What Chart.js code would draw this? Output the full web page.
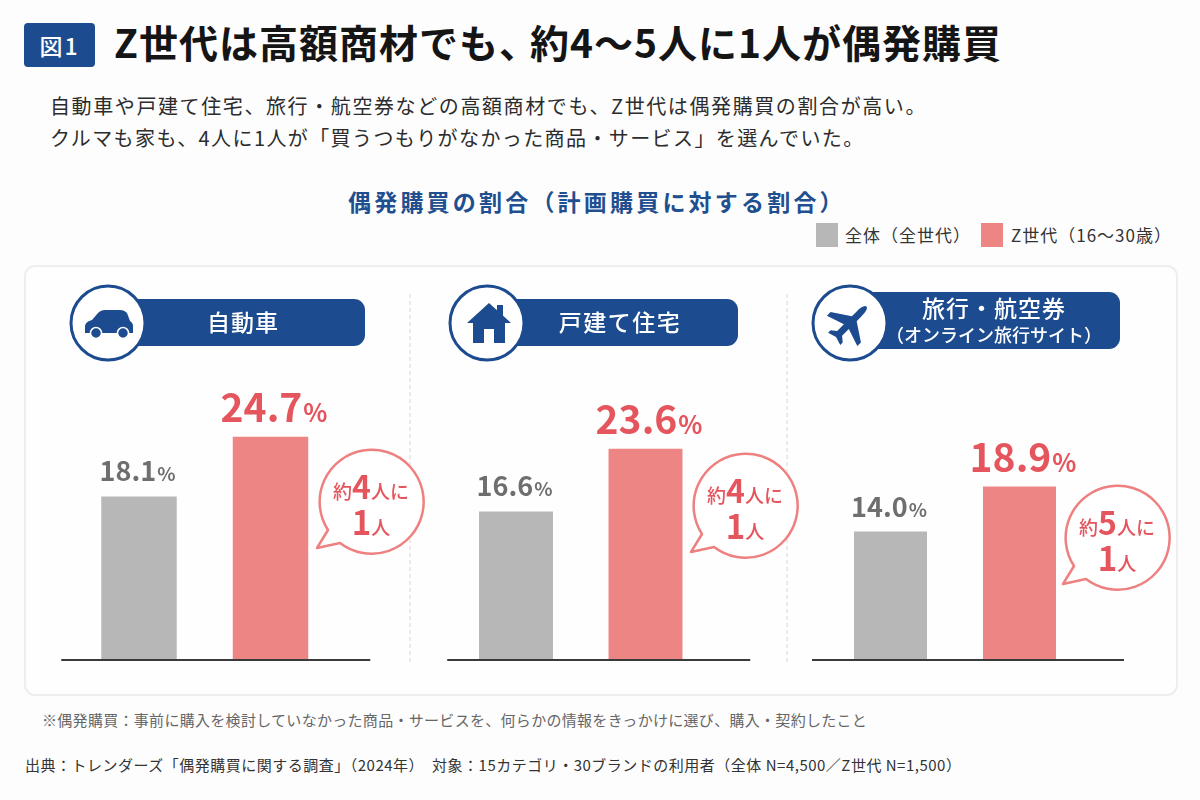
<!DOCTYPE html>
<html lang="ja">
<head>
<meta charset="utf-8">
<title>図1</title>
<script src="https://cdn.jsdelivr.net/npm/chart.js@4"></script>
<style>
html, body { margin: 0; padding: 0; background: #fdfdfe; }
body { width: 1200px; height: 800px; position: relative; overflow: hidden; font-family: "Noto Sans CJK JP", sans-serif; }
canvas { position: absolute; z-index: 2; }
#panel { position: absolute; left: 24px; top: 265px; width: 1150px; height: 427px; background: #fefefe; border: 2px solid #eceef0; border-radius: 11px; box-sizing: content-box; }
#art { position: absolute; left: 0; top: 0; z-index: 3; }
.t { position: absolute; white-space: nowrap; line-height: 1; }
#badge { left: 24px; top: 23px; width: 71px; height: 44px; background: #1c4c8f; border-radius: 4px; color: #fff; font-size: 23px; font-weight: 500; line-height: 44px; text-align: center; letter-spacing: 2px; }
#title { left: 114px; top: 22px; font-size: 39px; font-weight: 700; color: #151515; letter-spacing: 1px; }
#title span { letter-spacing: -8px; }
#sub1 { left: 50px; top: 96px; font-size: 20px; color: #2c2c2c; letter-spacing: 1.6px; }
#sub2 { left: 50px; top: 128px; font-size: 20px; color: #2c2c2c; letter-spacing: 1.4px; }
#chartTitle { left: 348px; top: 190px; font-size: 23px; font-weight: 700; color: #1f4f8f; letter-spacing: 3.2px; }
.key { top: 223px; width: 22px; height: 24px; position: absolute; }
.keyText { top: 226px; font-size: 17px; color: #333; letter-spacing: 1px; }
#note { left: 42px; top: 712px; font-size: 15px; color: #666; letter-spacing: 0.3px; }
#source { left: 25px; top: 757px; font-size: 15px; color: #333; letter-spacing: 0.5px; }
</style>
</head>
<body>
<div id="badge" class="t">図1</div>
<div id="title" class="t">Z世代は高額商材でも<span>、</span>約4〜5人に1人が偶発購買</div>
<div id="sub1" class="t">自動車や戸建て住宅、旅行・航空券などの高額商材でも、Z世代は偶発購買の割合が高い。</div>
<div id="sub2" class="t">クルマも家も、4人に1人が「買うつもりがなかった商品・サービス」を選んでいた。</div>
<div id="chartTitle" class="t">偶発購買の割合（計画購買に対する割合）</div>
<div id="key0" class="key" style="left:816px"></div>
<div id="keyText0" class="t keyText" style="left:845px"></div>
<div id="key1" class="key" style="left:981px"></div>
<div id="keyText1" class="t keyText" style="left:1011px"></div>
<div id="panel"></div>
<canvas id="chart0" width="375" height="300" style="left:30px;top:370px"></canvas>
<canvas id="chart1" width="375" height="300" style="left:415px;top:370px"></canvas>
<canvas id="chart2" width="375" height="300" style="left:795px;top:370px"></canvas>
<svg id="art" width="1200" height="800" xmlns="http://www.w3.org/2000/svg" font-family="Noto Sans CJK JP, sans-serif"></svg>
<div id="note" class="t">※偶発購買：事前に購入を検討していなかった商品・サービスを、何らかの情報をきっかけに選び、購入・契約したこと</div>
<div id="source" class="t">出典：トレンダーズ「偶発購買に関する調査」（2024年）　対象：15カテゴリ・30ブランドの利用者（全体 N=4,500／Z世代 N=1,500）</div>

<script>
// data
var seriesNames = ["全体（全世代）", "Z世代（16〜30歳）"];
var overallValues = [18.1, 16.6, 14.0];
var genZValues = [24.7, 23.6, 18.9];
var peopleCounts = [4, 4, 5];

var NAVY = "#1c4c8f";
var GREY = "#b7b7b7";
var RED = "#ee8585";
var RED_TEXT = "#e5555d";
var GREY_TEXT = "#6e6e6e";

// per panel layout, canvas local
var panels = [
	{ left: 43.25, right: 68.75, max: 32.1, barPct: 0.574, axisFrom: -12, axisTo: 34 },
	{ left: 36.25, right: 79.75, max: 32.4, barPct: 0.571, axisFrom: -4, axisTo: 40 },
	{ left: 31, right: 86, max: 31.6, barPct: 0.566, axisFrom: -14, axisTo: 40 }
];

var valueLabels = {
	id: "valueLabels",
	afterDatasetsDraw: function (chart) {
		var ctx = chart.ctx;
		var meta = chart.getDatasetMeta(0);
		var values = chart.data.datasets[0].data;
		ctx.save();
		ctx.textBaseline = "alphabetic";
		meta.data.forEach(function (bar, i) {
			var big = i == 1 ? 39 : 27;
			var small = i == 1 ? 25 : 19;
			var num = values[i].toFixed(1);
			ctx.fillStyle = i == 1 ? RED_TEXT : GREY_TEXT;
			ctx.font = "700 " + big + "px 'Noto Sans CJK JP'";
			var w1 = ctx.measureText(num).width;
			ctx.font = "700 " + small + "px 'Noto Sans CJK JP'";
			var w2 = ctx.measureText("%").width;
			var x = bar.x - (w1 + w2) / 2 + (i == 1 ? 3 : -2);
			var y = bar.y - 15;
			ctx.font = "700 " + big + "px 'Noto Sans CJK JP'";
			ctx.textAlign = "left";
			ctx.fillText(num, x, y);
			ctx.font = "700 " + small + "px 'Noto Sans CJK JP'";
			ctx.fillText("%", x + w1 + 1, y);
		});
		ctx.restore();
	}
};

var baseLine = {
	id: "baseLine",
	afterDatasetsDraw: function (chart, args, opts) {
		var ctx = chart.ctx;
		var y = chart.scales.y.getPixelForValue(0);
		ctx.save();
		ctx.strokeStyle = "#3a3a3a";
		ctx.lineWidth = 2;
		ctx.beginPath();
		ctx.moveTo(chart.chartArea.left + opts.from, y);
		ctx.lineTo(chart.chartArea.right + opts.to, y);
		ctx.stroke();
		ctx.restore();
	}
};

for (var i = 0; i < 3; i++) {
	var p = panels[i];
	new Chart(document.getElementById("chart" + i).getContext("2d"), {
		type: "bar",
		data: {
			labels: seriesNames,
			datasets: [{
				data: [overallValues[i], genZValues[i]],
				backgroundColor: [GREY, RED],
				borderWidth: 0,
				barPercentage: p.barPct,
				categoryPercentage: 1
			}]
		},
		options: {
			responsive: false,
			animation: false,
			devicePixelRatio: 1,
			layout: { padding: { left: p.left, right: p.right, top: 0, bottom: 10 } },
			plugins: {
				legend: { display: false },
				tooltip: { enabled: false },
				baseLine: { from: p.axisFrom, to: p.axisTo }
			},
			scales: {
				x: { display: false },
				y: { display: false, min: 0, max: p.max }
			}
		},
		plugins: [valueLabels, baseLine]
	});
}

// legend
document.getElementById("key0").style.background = GREY;
document.getElementById("key1").style.background = RED;
document.getElementById("keyText0").textContent = seriesNames[0];
document.getElementById("keyText1").textContent = seriesNames[1];

// headers, icons, callouts
var car = '<path d="M85 333v-6c0-4 3-6 7-7l6-7c2-2 4-3 7-3h15c3 0 5 1 7 3l3 8c2 1 3 3 3 5v7z" fill="' + NAVY + '"/>' +
	'<circle cx="96" cy="333" r="5.5" fill="' + NAVY + '" stroke="#fff" stroke-width="1.5"/><circle cx="123" cy="333" r="5.5" fill="' + NAVY + '" stroke="#fff" stroke-width="1.5"/>';
var house = '<path d="M489 303l22 20h-6v20h-11v-14h-10v14h-11v-20h-6z" fill="' + NAVY + '"/><rect x="497" y="305" width="6" height="12" fill="' + NAVY + '"/>';
var plane = '<path transform="translate(850 323) rotate(45) scale(.86)" d="M0-27c3 0 4 6 4 12v8L25 7v6L4 6v11l6 5v4L0 23l-10 3v-4l6-5V6l-21 7V7L-4-7v-8c0-6 1-12 4-12z" fill="' + NAVY + '"/>';

var heads = [
	{ cx: 108, r: 37, right: 365, top: 299, bottom: 346, icon: car, text: "自動車", ls: 1, tx: 243, ty: 331 },
	{ cx: 487, r: 37, right: 738, top: 299, bottom: 346, icon: house, text: "戸建て住宅", ls: 1.5, tx: 620, ty: 331 },
	{ cx: 850, r: 37, right: 1120, top: 292, bottom: 349, icon: plane, text: "旅行・航空券", ls: 1, tx: 994, ty: 317, sub: "（オンライン旅行サイト）", sy: 342 }
];
var bubbles = [
	{ cx: 371, cy: 501 },
	{ cx: 745, cy: 505 },
	{ cx: 1117, cy: 537 }
];

var html = '<path d="M410 294V662M787 294V662" stroke="#e3e3e3" stroke-width="1.5" stroke-dasharray="4 3" fill="none"/>';
heads.forEach(function (h) {
	html += '<rect x="' + (h.cx + 10) + '" y="' + h.top + '" width="' + (h.right - h.cx - 10) + '" height="' + (h.bottom - h.top) + '" rx="11" fill="' + NAVY + '"/>';
	html += '<circle cx="' + h.cx + '" cy="323" r="' + h.r + '" fill="#fff" stroke="' + NAVY + '" stroke-width="3"/>';
	html += h.icon;
	html += '<text x="' + h.tx + '" y="' + h.ty + '" text-anchor="middle" fill="#fff" font-size="23" font-weight="500" letter-spacing="' + h.ls + '">' + h.text + '</text>';
	if (h.sub) html += '<text x="' + h.tx + '" y="' + h.sy + '" text-anchor="middle" fill="#fff" font-size="18" font-weight="500">' + h.sub + '</text>';
});
bubbles.forEach(function (b, i) {
	var x = b.cx, y = b.cy;
	html += '<path d="M' + (x - 43) + ' ' + (y + 29) + 'A52 52 0 1 1 ' + (x - 31) + ' ' + (y + 42) + 'L' + (x - 54) + ' ' + (y + 47) + 'Z" fill="#fff" stroke="#ee8080" stroke-width="2.5" stroke-linejoin="round"/>';
	html += '<text x="' + x + '" y="' + (y - 2) + '" text-anchor="middle" fill="' + RED_TEXT + '" font-weight="500" font-size="19">約<tspan font-size="32" font-weight="700">' + peopleCounts[i] + '</tspan>人に</text>';
	html += '<text x="' + x + '" y="' + (y + 34) + '" text-anchor="middle" fill="' + RED_TEXT + '" font-weight="500" font-size="19"><tspan font-size="33" font-weight="700">1</tspan>人</text>';
});
document.getElementById("art").innerHTML = html;
</script>
</body>
</html>
